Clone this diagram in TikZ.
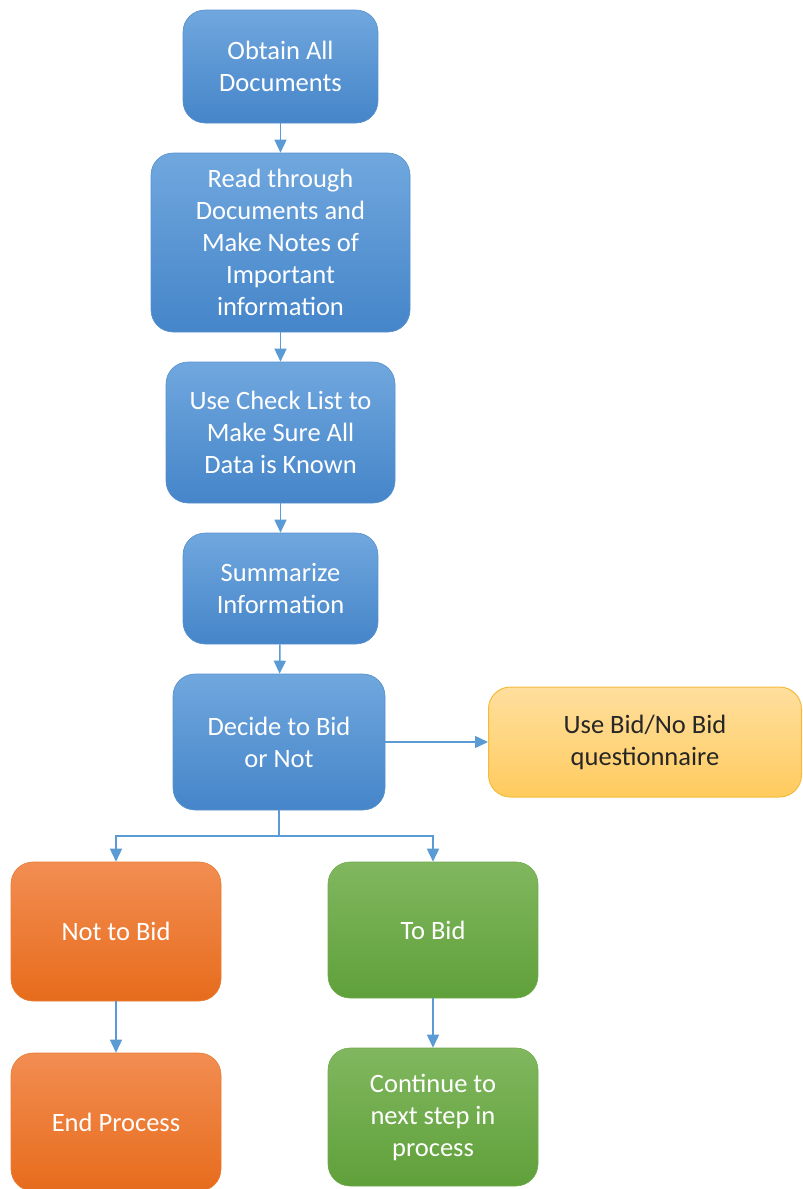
\documentclass[tikz,border=0pt]{standalone}
\usepackage{fontspec}
\setmainfont{Carlito}
\usetikzlibrary{arrows.meta}
\definecolor{bluetop}{HTML}{70A7DE}
\definecolor{bluebot}{HTML}{4585C9}
\definecolor{orgtop}{HTML}{F28D52}
\definecolor{orgbot}{HTML}{E76C1C}
\definecolor{grntop}{HTML}{80B75F}
\definecolor{grnbot}{HTML}{60A03A}
\definecolor{yeltop}{HTML}{FFDF9E}
\definecolor{yelbot}{HTML}{FFCB5E}
\definecolor{yelline}{HTML}{F4BA3A}
\definecolor{conn}{HTML}{5B9BD5}
\begin{document}
\begin{tikzpicture}[x=1pt,y=-1pt,
  box/.style={rounded corners=22pt, inner sep=0pt, align=center,
    font=\fontsize{26.5}{32}\selectfont, text=white},
  bluebox/.style={box, top color=bluetop, bottom color=bluebot, draw=bluebot!90!white, line width=0.6pt},
  orgbox/.style={box, top color=orgtop, bottom color=orgbot, draw=orgbot!90!white, line width=0.6pt},
  grnbox/.style={box, top color=grntop, bottom color=grnbot, draw=grnbot!90!white, line width=0.6pt},
  yelbox/.style={box, top color=yeltop, bottom color=yelbot, draw=yelline, line width=1pt, text={black!85}},
  arr/.style={draw=conn, line width=1.5pt, -{Triangle[width=12pt,length=13pt]}},
  ln/.style={draw=conn, line width=1.5pt}]
\useasboundingbox (0,0) rectangle (803,1189);
\node[bluebox, minimum width=195pt, minimum height=113pt] (ob) at (280.5,66.5) {Obtain All\\Documents};
\node[bluebox, minimum width=259pt, minimum height=179pt] (rd) at (280.5,242.5) {Read through\\Documents and\\Make Notes of\\Important\\information};
\node[bluebox, minimum width=229pt, minimum height=141pt] (ck) at (280.5,432.5) {Use Check List to\\Make Sure All\\Data is Known};
\node[bluebox, minimum width=195pt, minimum height=111pt] (sm) at (280.5,588.5) {Summarize\\Information};
\node[bluebox, minimum width=212pt, minimum height=136pt] (dc) at (279,742) {Decide to Bid\\or Not};
\node[yelbox, minimum width=313pt, minimum height=110pt] (qs) at (645,742) {Use Bid/No Bid\\questionnaire};
\node[orgbox, minimum width=210pt, minimum height=139pt] (nb) at (116,931.5) {Not to Bid};
\node[grnbox, minimum width=210pt, minimum height=136pt] (tb) at (433,930) {To Bid};
\node[orgbox, minimum width=210pt, minimum height=138pt] (ep) at (116,1122) {End Process};
\node[grnbox, minimum width=210pt, minimum height=138pt] (ct) at (433,1117) {Continue to\\next step in\\process};
\draw[arr] (ob) -- (rd);
\draw[arr] (rd) -- (ck);
\draw[arr] (ck) -- (sm);
\draw[arr] (sm) -- (dc);
\draw[arr] (dc) -- (qs);
\coordinate (j) at (279,836);
\draw[ln] (dc.south) -- (j);
\draw[arr] (j) -| (nb.north);
\draw[arr] (j) -| (tb.north);
\draw[arr] (nb) -- (ep);
\draw[arr] (tb) -- (ct);
\end{tikzpicture}
\end{document}
